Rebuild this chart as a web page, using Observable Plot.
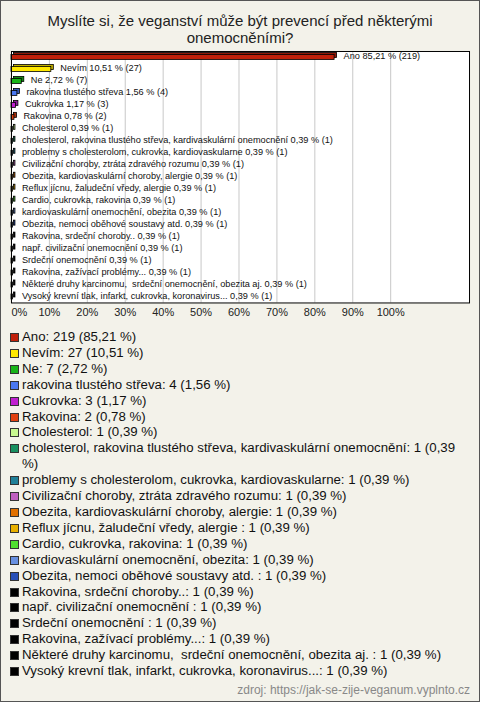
<!DOCTYPE html>
<html><head><meta charset="utf-8">
<script src="https://cdn.jsdelivr.net/npm/d3@7"></script>
<script src="https://cdn.jsdelivr.net/npm/@observablehq/plot@0.6"></script>
<style>
body{margin:0;background:#fff;}
#wrap{position:relative;width:478px;height:700px;border:1px solid #555;background:#f3f2ea;font-family:"Liberation Sans",Arial,sans-serif;overflow:hidden}
#title{position:absolute;left:0;top:11px;width:478px;text-align:center;font-size:15px;line-height:17px;color:#222}
#chart{position:absolute;left:-1px;top:44px}
#legend{position:absolute;left:9px;top:328px;font-size:13.25px;line-height:15.9px;color:#111}
.item{display:flex;align-items:flex-start}
.sw{width:7px;height:7px;border:1px solid #333;margin-top:4px;margin-right:3px;flex:none}
.txt{width:440px;white-space:pre-wrap}
#src{position:absolute;right:9px;top:682px;font-size:12px;color:#888}
</style>
</head><body>
<div id="wrap">
<div id="title">Myslíte si, že veganství může být prevencí před některými<br>onemocněními?</div>
<div id="chart"></div>
<div id="legend"></div>
<div id="src">zdroj: https://jak-se-zije-veganum.vyplnto.cz</div>
</div>
<script>
const categories = [
  "Ano",
  "Nevím",
  "Ne",
  "rakovina tlustého střeva",
  "Cukrovka",
  "Rakovina",
  "Cholesterol",
  "cholesterol, rakovina tlustého střeva, kardivaskulární onemocnění",
  "problemy s cholesterolom, cukrovka, kardiovaskularne",
  "Civilizační choroby, ztráta zdravého rozumu",
  "Obezita, kardiovaskulární choroby, alergie",
  "Reflux jícnu, žaludeční vředy, alergie ",
  "Cardio, cukrovka, rakovina",
  "kardiovaskulární onemocnění, obezita",
  "Obezita, nemoci oběhové soustavy atd. ",
  "Rakovina, srdeční choroby..",
  "např. civilizační onemocnění ",
  "Srdeční onemocnění ",
  "Rakovina, zažívací problémy...",
  "Některé druhy karcinomu,  srdeční onemocnění, obezita aj. ",
  "Vysoký krevní tlak, infarkt, cukrovka, koronavirus..."
];
const counts = [219, 27, 7, 4, 3, 2, 1, 1, 1, 1, 1, 1, 1, 1, 1, 1, 1, 1, 1, 1, 1];
const percents = [85.21, 10.51, 2.72, 1.56, 1.17, 0.78, 0.39, 0.39, 0.39, 0.39, 0.39, 0.39, 0.39, 0.39, 0.39, 0.39, 0.39, 0.39, 0.39, 0.39, 0.39];
const colors = ["#c0200a", "#ffe800", "#18b418", "#4a78f0", "#c020d0", "#e04010", "#c8f890", "#189060", "#208098", "#c060c0", "#e07000", "#e8b000", "#50e030", "#6890e0", "#2850b8", "#000000", "#000000", "#000000", "#000000", "#000000", "#000000"];
const xTicks = [0, 10, 20, 30, 40, 50, 60, 70, 80, 90, 100];

const fmt = v => v.toFixed(2).replace(".", ",");
const data = categories.map((c, i) => ({
  cat: c, count: counts[i], pct: percents[i], color: colors[i],
  back: colors[i] === "#000000" ? "#000000" : d3.color(colors[i]).darker(0.8).formatHex()
}));

const xMax = 100 * 459 / 380;
const chart = Plot.plot({
  width: 480, height: 283,
  marginTop: 6, marginBottom: 25, marginLeft: 11, marginRight: 10,
  x: {domain: [0, xMax], axis: null},
  y: {domain: categories, axis: null, padding: 0},
  color: {type: "identity"},
  style: {background: "transparent", fontFamily: "'Liberation Sans', Arial, sans-serif", color: "#111"},
  marks: [
    Plot.frame({fill: "white"}),
    Plot.ruleX(xTicks.filter(d => d > 0), {stroke: "#c8c8c8", strokeWidth: 1}),
    Plot.barX(data, {x: "pct", y: "cat", fill: "back", dx: 2.5, dy: -2, insetTop: 3.5, insetBottom: 3.5, stroke: "#000", strokeWidth: 0.8}),
    Plot.barX(data, {x: "pct", y: "cat", fill: "color", insetTop: 3.5, insetBottom: 3.5, stroke: "#000", strokeWidth: 0.8}),
    Plot.text(data, {x: "pct", y: "cat", text: d => `${d.cat.trim()} ${fmt(d.pct)} % (${d.count})`, dx: 9, dy: -1, textAnchor: "start", fontSize: 9.2, fill: "#111"}),
    Plot.frame({stroke: "#000", strokeWidth: 1}),
    Plot.text(xTicks.filter(d => d === 0), {x: d => d, frameAnchor: "bottom", dy: 13, text: d => d + "%", textAnchor: "start", fontSize: 11, fill: "#222"}),
    Plot.text(xTicks.filter(d => d > 0), {x: d => d, frameAnchor: "bottom", dy: 13, text: d => d + "%", fontSize: 11, fill: "#222"})
  ]
});
document.getElementById("chart").appendChild(chart);

const legend = document.getElementById("legend");
data.forEach(d => {
  const item = document.createElement("div");
  item.className = "item";
  const sw = document.createElement("div");
  sw.className = "sw";
  sw.style.background = d.color;
  const t = document.createElement("div");
  t.className = "txt";
  t.textContent = `${d.cat}: ${d.count} (${fmt(d.pct)} %)`;
  item.appendChild(sw); item.appendChild(t);
  legend.appendChild(item);
});
</script>
</body></html>
